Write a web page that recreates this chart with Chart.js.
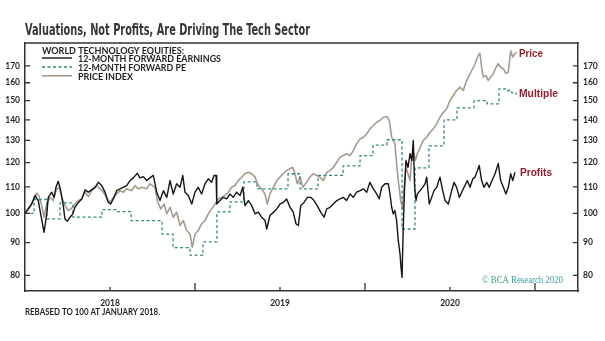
<!DOCTYPE html>
<html><head><meta charset="utf-8">
<script src="https://cdn.jsdelivr.net/npm/chart.js@4.4.1/dist/chart.umd.min.js"></script>
<style>html,body{margin:0;padding:0;background:#fff}canvas{display:block}</style>
</head><body>
<canvas id="c" width="605" height="341"></canvas>
<script>
// World technology equities, rebased to 100 at January 2018.
// Dates are decimal years.
const priceDates = [2018.000,2018.029,2018.049,2018.069,2018.084,2018.098,2018.112,2018.128,2018.147,2018.166,2018.186,2018.202,2018.216,2018.235,2018.255,2018.275,2018.294,2018.314,2018.334,2018.353,2018.372,2018.392,2018.422,2018.441,2018.461,2018.484,2018.500,2018.519,2018.539,2018.559,2018.578,2018.598,2018.628,2018.647,2018.666,2018.686,2018.716,2018.735,2018.765,2018.778,2018.798,2018.818,2018.834,2018.853,2018.872,2018.892,2018.912,2018.931,2018.951,2018.971,2018.984,2019.000,2019.019,2019.039,2019.059,2019.078,2019.098,2019.118,2019.137,2019.157,2019.176,2019.196,2019.216,2019.235,2019.255,2019.275,2019.294,2019.314,2019.334,2019.353,2019.372,2019.392,2019.412,2019.425,2019.441,2019.461,2019.481,2019.500,2019.519,2019.539,2019.559,2019.575,2019.588,2019.602,2019.618,2019.634,2019.657,2019.676,2019.696,2019.716,2019.735,2019.755,2019.775,2019.794,2019.814,2019.834,2019.853,2019.872,2019.892,2019.912,2019.931,2019.951,2019.971,2019.990,2020.010,2020.029,2020.049,2020.069,2020.088,2020.108,2020.128,2020.143,2020.157,2020.166,2020.176,2020.186,2020.196,2020.210,2020.222,2020.229,2020.241,2020.253,2020.265,2020.275,2020.284,2020.296,2020.308,2020.324,2020.343,2020.363,2020.382,2020.402,2020.422,2020.441,2020.461,2020.481,2020.500,2020.519,2020.539,2020.559,2020.578,2020.594,2020.608,2020.628,2020.647,2020.666,2020.676,2020.686,2020.696,2020.712,2020.725,2020.739,2020.755,2020.771,2020.784,2020.798,2020.814,2020.829,2020.843,2020.857,2020.869,2020.882,2020.892];
const priceIndex = [100,102.2,104.7,107.5,106.2,102.8,98.6,103.4,105.9,104.7,109.2,109.8,105.9,102.8,101.0,101.9,103.4,104.7,105.3,107.9,106.2,108.5,110.5,109.2,107.9,105.3,104.0,105.9,107.2,108.5,107.9,109.2,108.5,110.5,109.2,109.8,109.2,111.2,109.8,104.7,101.6,103.4,99.8,102.2,98.6,100.4,95.7,97.4,94.0,92.8,88.5,92.8,94.0,96.3,97.4,99.8,101.6,103.4,105.3,105.9,106.6,107.9,109.8,110.5,112.5,113.9,115.3,115.9,115.3,113.9,110.5,109.2,107.2,103.4,107.2,109.8,112.5,113.9,115.3,116.6,117.4,118.0,115.3,111.2,113.9,109.8,111.8,113.9,115.3,114.6,113.9,112.5,115.9,116.6,118.0,120.2,122.4,123.1,123.9,123.1,125.3,128.4,130.7,131.5,133.1,135.5,137.2,138.8,139.7,141.3,141.7,139.7,131.5,130.0,128.4,119.5,112.5,104.7,101.5,108.5,118.0,115.3,112.5,122.4,125.3,120.9,123.9,126.8,130.0,131.5,133.9,135.5,138.0,141.3,143.9,145.7,150.1,152.8,155.6,157.5,155.6,160.3,163.3,167.2,171.3,176.5,178.0,169.2,163.3,164.3,161.3,163.3,165.3,169.2,171.3,169.2,168.3,165.3,166.2,179.3,175.5,177.6,178.6];

const earningsDates = [2018.000,2018.039,2018.059,2018.078,2018.092,2018.112,2018.128,2018.137,2018.157,2018.171,2018.182,2018.196,2018.210,2018.225,2018.235,2018.249,2018.265,2018.281,2018.294,2018.314,2018.334,2018.353,2018.372,2018.392,2018.412,2018.431,2018.451,2018.471,2018.490,2018.504,2018.524,2018.539,2018.559,2018.578,2018.598,2018.618,2018.637,2018.661,2018.676,2018.696,2018.716,2018.735,2018.755,2018.775,2018.794,2018.814,2018.834,2018.853,2018.872,2018.892,2018.912,2018.928,2018.941,2018.961,2018.981,2019.000,2019.019,2019.039,2019.059,2019.078,2019.098,2019.112,2019.124,2019.128,2019.147,2019.166,2019.186,2019.206,2019.225,2019.245,2019.265,2019.281,2019.294,2019.314,2019.334,2019.353,2019.372,2019.392,2019.412,2019.422,2019.441,2019.461,2019.481,2019.500,2019.519,2019.539,2019.559,2019.578,2019.594,2019.608,2019.622,2019.641,2019.661,2019.681,2019.700,2019.719,2019.739,2019.759,2019.775,2019.794,2019.814,2019.834,2019.853,2019.872,2019.892,2019.912,2019.931,2019.951,2019.971,2019.990,2020.010,2020.029,2020.049,2020.069,2020.084,2020.098,2020.118,2020.137,2020.147,2020.157,2020.166,2020.176,2020.186,2020.196,2020.206,2020.212,2020.218,2020.225,2020.233,2020.241,2020.253,2020.265,2020.276,2020.284,2020.292,2020.300,2020.308,2020.324,2020.339,2020.353,2020.363,2020.378,2020.392,2020.406,2020.422,2020.441,2020.457,2020.471,2020.490,2020.510,2020.524,2020.539,2020.555,2020.569,2020.588,2020.602,2020.618,2020.634,2020.647,2020.661,2020.672,2020.686,2020.700,2020.716,2020.731,2020.747,2020.765,2020.784,2020.798,2020.814,2020.829,2020.843,2020.857,2020.869,2020.882];
const forwardEarnings = [100,103.4,106.6,104.7,99.8,93.4,99.8,105.9,107.9,105.9,109.8,112.2,108.5,102.8,98.0,97.2,98.6,99.8,102.2,104.0,105.3,108.8,107.9,108.8,109.8,111.8,110.5,107.9,104.0,103.4,105.9,108.5,109.2,109.8,110.5,112.5,113.6,115.5,113.6,114.1,112.5,113.6,114.6,107.9,104.7,108.5,105.9,112.5,107.2,111.2,109.8,114.6,107.9,106.6,103.4,107.9,109.8,107.2,111.2,113.2,111.8,114.6,114.6,103.4,104.7,105.9,105.3,107.2,105.9,107.9,106.6,109.8,102.8,104.7,102.8,99.8,100.4,98.6,97.4,94.5,99.2,100.4,101.6,103.4,104.0,105.3,102.2,100.4,96.3,95.7,102.8,104.0,105.9,105.9,104.7,102.8,100.4,98.6,101.6,102.2,103.4,104.7,105.3,105.9,104.7,107.2,105.9,107.9,108.5,109.2,107.9,111.8,109.2,107.2,105.3,109.8,111.2,111.2,107.2,102.2,99.8,101.0,97.4,90.6,86.4,82.3,79.4,95.1,109.8,120.9,118.0,123.9,120.9,130.0,109.8,104.7,107.2,108.5,109.8,111.2,113.9,103.4,105.9,108.5,109.8,113.9,108.5,104.7,103.4,108.5,111.8,109.8,105.9,107.9,110.5,112.5,109.8,113.2,113.9,116.6,118.8,112.5,109.8,111.8,109.8,112.5,115.3,119.7,112.5,109.8,107.2,109.8,115.3,112.5,115.9];

// Forward PE, revised monthly (each value holds until the next date)
const peDates = [2018.000,2018.053,2018.129,2018.206,2018.282,2018.453,2018.541,2018.624,2018.806,2018.871,2018.971,2019.047,2019.129,2019.206,2019.288,2019.365,2019.547,2019.618,2019.724,2019.871,2019.971,2020.047,2020.129,2020.218,2020.294,2020.376,2020.465,2020.541,2020.641,2020.718,2020.788,2020.835,2020.862,2020.888];
const forwardPE = [100,105.1,98.0,103.8,98.6,101.3,100.6,97.4,92.8,88.4,86.0,90.2,100.5,104.2,112.0,109.2,115.3,109.2,114.6,118.6,123.1,127.8,130.3,94.5,117.8,127.5,140.0,146.2,150.0,148.3,156.5,155.6,154.4,153.2];

const yTicks = [80, 90, 100, 110, 120, 130, 140, 150, 160, 170];
const yearLabels = ['2018', '2019', '2020'];
const yearStarts = [2018, 2019, 2020, 2021];

const toPoints = (xs, ys) => xs.map((x, i) => ({ x, y: ys[i] }));

const INK = '#262626';
const tickFont = { family: 'Lato', weight: 'bold', size: 8.5 };

function fitText(ctx, text, x, y, w, font, color) {
  ctx.save();
  ctx.font = font;
  ctx.fillStyle = color;
  ctx.textBaseline = 'alphabetic';
  ctx.textAlign = 'left';
  const m = ctx.measureText(text).width;
  ctx.translate(x, y);
  ctx.scale(w / m, 1);
  ctx.fillText(text, 0, 0);
  ctx.restore();
}

const decorations = {
  id: 'decorations',
  afterDraw(chart) {
    const { ctx, chartArea: a, scales } = chart;
    ctx.save();
    ctx.strokeStyle = '#333';
    ctx.lineWidth = 1.5;
    // top frame edge
    ctx.beginPath();
    ctx.moveTo(a.left - 0.75, a.top);
    ctx.lineTo(a.right + 0.75, a.top);
    ctx.stroke();
    // inward tick marks on both value axes
    ctx.lineWidth = 1.3;
    yTicks.forEach(v => {
      const py = scales.y.getPixelForValue(v);
      ctx.beginPath();
      ctx.moveTo(a.left, py); ctx.lineTo(a.left + 5, py);
      ctx.moveTo(a.right, py); ctx.lineTo(a.right - 5, py);
      ctx.stroke();
    });
    // year boundaries (long) and mid-year label ticks (short)
    yearStarts.forEach(v => {
      const px = scales.x.getPixelForValue(v);
      if (px <= a.left + 1 || px >= a.right - 1) return;
      ctx.beginPath(); ctx.moveTo(px, a.bottom); ctx.lineTo(px, a.bottom - 8); ctx.stroke();
    });
    yearStarts.slice(0, 3).forEach(v => {
      const px = scales.x.getPixelForValue(v + 0.5);
      ctx.beginPath(); ctx.moveTo(px, a.bottom); ctx.lineTo(px, a.bottom - 4); ctx.stroke();
    });
    ctx.restore();

    // title
    fitText(ctx, 'Valuations, Not Profits, Are Driving The Tech Sector', 25, 35, 285,
      'bold 15px "DejaVu Sans Condensed", "Liberation Sans Narrow", sans-serif', '#363636');

    // legend
    const lf = 'bold 8.7px Lato, sans-serif';
    fitText(ctx, 'WORLD TECHNOLOGY EQUITIES:', 42, 54.3, 142, lf, '#1e1e1e');
    fitText(ctx, '12-MONTH FORWARD EARNINGS', 78, 62, 143, lf, '#1e1e1e');
    fitText(ctx, '12-MONTH FORWARD PE', 78, 71.2, 108, lf, '#1e1e1e');
    fitText(ctx, 'PRICE INDEX', 78, 80.2, 55, lf, '#1e1e1e');
    ctx.save();
    ctx.lineWidth = 1.4;
    ctx.strokeStyle = '#151515';
    ctx.beginPath(); ctx.moveTo(42, 58); ctx.lineTo(72, 58); ctx.stroke();
    ctx.strokeStyle = '#2e8b80'; ctx.setLineDash([3, 2.5]);
    ctx.beginPath(); ctx.moveTo(42, 67); ctx.lineTo(72, 67); ctx.stroke();
    ctx.setLineDash([]);
    ctx.strokeStyle = '#a89a8c'; ctx.lineWidth = 1.6;
    ctx.beginPath(); ctx.moveTo(42, 75.8); ctx.lineTo(72, 75.8); ctx.stroke();
    ctx.restore();

    // series call-outs
    const cf = 'bold 11px "Liberation Sans", Arial, sans-serif';
    fitText(ctx, 'Price', 519, 57, 24, cf, '#9a1c2b');
    fitText(ctx, 'Multiple', 519, 97, 39, cf, '#9a1c2b');
    fitText(ctx, 'Profits', 520, 176, 32, cf, '#9a1c2b');

    // credit line
    fitText(ctx, '\u00A9 BCA Research 2020', 482, 283, 81,
      '9.5px "Liberation Serif", "DejaVu Serif", serif', '#3a9c94');

    // footnote
    fitText(ctx, 'REBASED TO 100 AT JANUARY 2018.', 25, 315, 135, 'bold 8.5px Lato, sans-serif', '#1e1e1e');
  }
};

const logAxis = (position, width) => ({
  type: 'logarithmic',
  position,
  min: 75.6,
  max: 184.6,
  grid: { display: false, drawTicks: false },
  border: { display: true, color: '#333', width: 1.5 },
  ticks: { color: INK, font: tickFont, padding: 5, autoSkip: false, callback: v => String(v) },
  afterBuildTicks: s => { s.ticks = yTicks.map(v => ({ value: v })); },
  afterFit: s => { s.width = width; }
});

new Chart(document.getElementById('c'), {
  type: 'line',
  data: {
    datasets: [
      { label: '12-MONTH FORWARD EARNINGS', data: toPoints(earningsDates, forwardEarnings),
        borderColor: '#151515', borderWidth: 1.4, yAxisID: 'y' },
      { label: '12-MONTH FORWARD PE', data: toPoints(peDates, forwardPE), stepped: true,
        borderColor: '#2e8b80', borderWidth: 1.3, borderDash: [3, 2.5], yAxisID: 'y' },
      { label: 'PRICE INDEX', data: toPoints(priceDates, priceIndex),
        borderColor: '#a89a8c', borderWidth: 1.6, yAxisID: 'y' }
    ]
  },
  options: {
    responsive: false,
    animation: false,
    devicePixelRatio: 1,
    layout: { padding: { top: 43, left: 0, right: 0, bottom: 0 } },
    elements: { point: { radius: 0 }, line: { tension: 0, borderJoinStyle: 'round' } },
    plugins: { legend: { display: false }, tooltip: { enabled: false }, title: { display: false } },
    scales: {
      x: {
        type: 'linear',
        min: 2018,
        max: 2021.253,
        grid: { display: false, drawTicks: false },
        border: { display: true, color: '#333', width: 1.5 },
        ticks: {
          color: INK, font: tickFont, padding: 7, maxRotation: 0, autoSkip: false,
          callback: v => yearLabels[Math.round(v - 2018.5)]
        },
        afterBuildTicks: s => { s.ticks = yearLabels.map((_, i) => ({ value: 2018.5 + i })); },
        afterFit: s => { s.height = 50; }
      },
      y: logAxis('left', 25),
      y2: logAxis('right', 27)
    }
  },
  plugins: [decorations]
});
</script>
</body></html>
